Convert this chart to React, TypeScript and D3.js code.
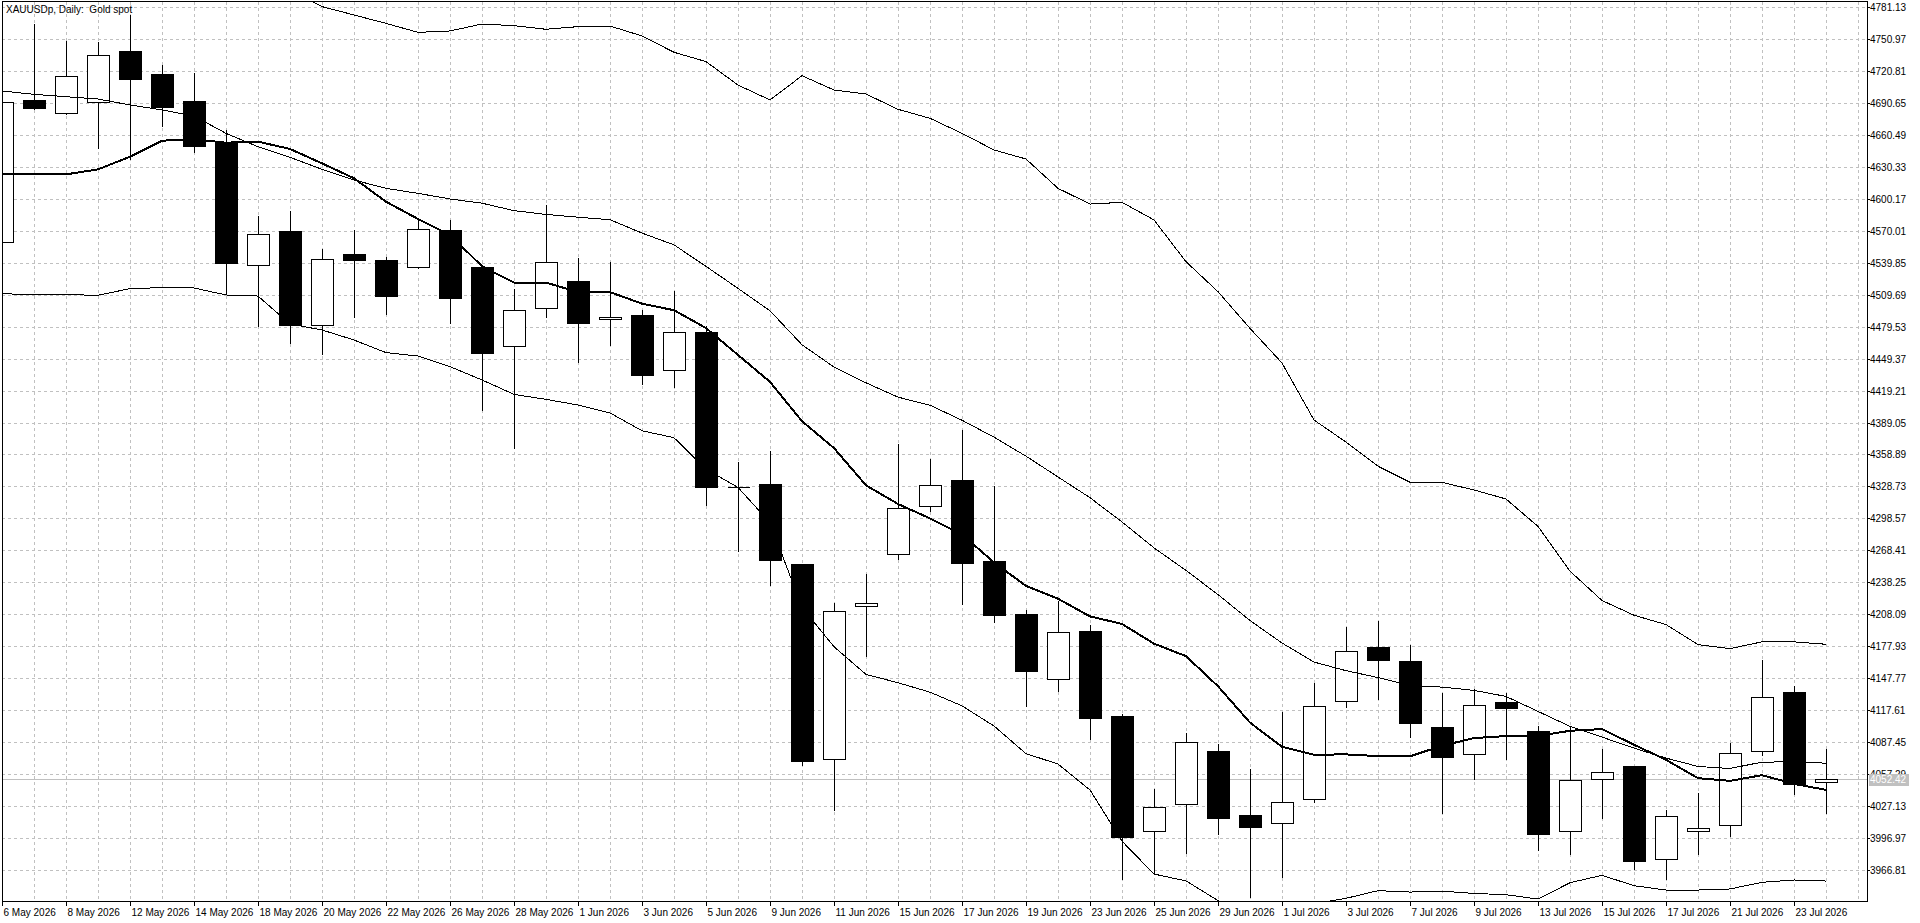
import * as d3 from "d3";

// daily bars, 6 May - 24 Jul 2026
const dates = [
  "6 May 2026", "7 May 2026", "8 May 2026", "11 May 2026", "12 May 2026", "13 May 2026", "14 May 2026", "15 May 2026",
  "18 May 2026", "19 May 2026", "20 May 2026", "21 May 2026", "22 May 2026", "25 May 2026", "26 May 2026", "27 May 2026",
  "28 May 2026", "29 May 2026", "1 Jun 2026", "2 Jun 2026", "3 Jun 2026", "4 Jun 2026", "5 Jun 2026", "8 Jun 2026",
  "9 Jun 2026", "10 Jun 2026", "11 Jun 2026", "12 Jun 2026", "15 Jun 2026", "16 Jun 2026", "17 Jun 2026", "18 Jun 2026",
  "19 Jun 2026", "22 Jun 2026", "23 Jun 2026", "24 Jun 2026", "25 Jun 2026", "26 Jun 2026", "29 Jun 2026", "30 Jun 2026",
  "1 Jul 2026", "2 Jul 2026", "3 Jul 2026", "6 Jul 2026", "7 Jul 2026", "8 Jul 2026", "9 Jul 2026", "10 Jul 2026",
  "13 Jul 2026", "14 Jul 2026", "15 Jul 2026", "16 Jul 2026", "17 Jul 2026", "20 Jul 2026", "21 Jul 2026", "22 Jul 2026",
  "23 Jul 2026", "24 Jul 2026",
];

const open = [
  4559.1, 4693.4, 4680.8, 4691.2, 4739.6, 4717.9, 4692.4, 4653.4, 4537.4, 4569.8,
  4480.9, 4548.5, 4542.4, 4535.6, 4570.7, 4536.0, 4461.4, 4496.9, 4522.7, 4486.4,
  4490.7, 4438.3, 4474.7, 4328.5, 4331.3, 4255.6, 4071.3, 4215.8, 4265.4, 4310.7,
  4334.4, 4258.4, 4208.1, 4147.1, 4192.4, 4112.5, 4003.5, 4029.3, 4079.5, 4019.1,
  4011.3, 4033.8, 4126.2, 4177.4, 4164.0, 4102.0, 4076.1, 4125.6, 4098.2, 4003.4,
  4052.5, 4065.1, 3976.9, 4003.4, 4009.0, 4079.0, 4134.7, 4049.8,
];
const high = [
  4700.0, 4766.3, 4750.0, 4749.0, 4774.5, 4727.3, 4719.8, 4666.0, 4584.9, 4589.3,
  4553.4, 4571.3, 4546.1, 4581.2, 4581.2, 4537.0, 4516.0, 4595.3, 4545.3, 4541.4,
  4495.7, 4514.5, 4480.9, 4353.2, 4363.0, 4256.0, 4219.7, 4246.6, 4369.6, 4355.2,
  4382.7, 4330.2, 4213.0, 4221.2, 4198.6, 4114.8, 4044.6, 4096.8, 4086.4, 4063.5,
  4116.7, 4144.5, 4196.7, 4202.9, 4180.4, 4134.4, 4138.5, 4135.1, 4103.9, 4102.3,
  4081.8, 4065.6, 4024.2, 4040.6, 4087.2, 4166.2, 4141.7, 4082.4,
];
const low = [
  4550.0, 4685.0, 4680.2, 4648.4, 4637.4, 4668.8, 4644.3, 4511.0, 4480.4, 4464.4,
  4453.4, 4488.9, 4491.2, 4534.7, 4482.6, 4400.9, 4364.9, 4488.7, 4446.1, 4461.8,
  4425.5, 4422.7, 4311.0, 4268.1, 4236.1, 4066.2, 4023.3, 4168.5, 4260.3, 4305.6,
  4217.9, 4201.2, 4121.6, 4135.3, 4090.6, 3958.1, 3963.0, 3982.6, 4000.8, 3941.8,
  3960.0, 4030.9, 4120.6, 4127.8, 4091.9, 4020.4, 4053.1, 4072.0, 3985.7, 3981.9,
  4015.7, 3967.8, 3958.0, 3981.9, 3998.9, 4075.5, 4038.6, 4020.4,
];
const close = [
  4691.2, 4685.5, 4715.7, 4735.5, 4713.5, 4687.1, 4650.2, 4539.9, 4566.6, 4481.1,
  4543.1, 4542.5, 4508.1, 4571.3, 4506.8, 4454.3, 4495.0, 4540.2, 4483.2, 4488.7,
  4433.6, 4474.3, 4327.8, 4328.5, 4259.5, 4070.1, 4211.5, 4218.5, 4308.3, 4330.2,
  4256.1, 4207.8, 4154.2, 4191.1, 4109.9, 3998.2, 4026.3, 4087.7, 4015.5, 4007.0,
  4030.9, 4121.6, 4173.2, 4164.7, 4105.3, 4073.9, 4122.5, 4119.3, 4000.5, 4051.6,
  4059.1, 3975.6, 4017.5, 4006.8, 4077.1, 4130.0, 4048.4, 4052.42,
];

// bollinger bands (thin) and the thick moving average
const bandUpper = [
  null, null, null, null, null, null, null, null, null, 4797.6,
  4781.5, 4773.6, 4765.7, 4757.2, 4758.5, 4765.1, 4763.5, 4760.1, 4762.6, 4763.2,
  4753.8, 4738.4, 4729.6, 4707.5, 4693.4, 4716.3, 4702.8, 4699.0, 4684.6, 4676.1,
  4661.9, 4646.2, 4637.7, 4610.0, 4595.2, 4596.8, 4580.2, 4540.8, 4512.5, 4477.9,
  4445.2, 4391.4, 4370.6, 4347.8, 4332.7, 4332.6, 4325.4, 4316.9, 4291.0, 4248.8,
  4221.1, 4207.2, 4198.4, 4179.5, 4175.7, 4182.1, 4182.1, 4179.8,
];
const bandMiddle = [
  4701.9, 4698.7, 4696.5, 4694.3, 4688.7, 4684.0, 4678.3, 4661.9, 4649.3, 4639.3,
  4628.0, 4617.9, 4610.0, 4605.3, 4600.0, 4596.0, 4589.0, 4585.4, 4582.8, 4580.4,
  4567.8, 4556.7, 4536.4, 4515.6, 4494.5, 4462.4, 4441.4, 4426.5, 4413.0, 4405.4,
  4391.2, 4375.2, 4357.3, 4337.7, 4318.1, 4295.2, 4270.8, 4249.5, 4226.7, 4202.2,
  4181.0, 4163.0, 4154.9, 4148.4, 4141.0, 4139.4, 4136.3, 4130.6, 4116.5, 4102.3,
  4092.2, 4081.8, 4072.4, 4064.5, 4062.6, 4068.6, 4068.9, 4067.6,
];
const bandLower = [
  4510.6, 4509.7, 4509.7, 4509.1, 4515.4, 4516.3, 4516.0, 4509.4, 4508.4, 4482.0,
  4476.4, 4466.9, 4455.0, 4451.8, 4441.8, 4429.2, 4415.6, 4410.9, 4405.6, 4398.1,
  4381.3, 4374.7, 4345.0, 4327.8, 4294.6, 4214.5, 4177.5, 4151.4, 4143.5, 4134.6,
  4121.7, 4102.7, 4076.6, 4066.8, 4042.3, 3994.0, 3963.0, 3956.5, 3938.0, 3926.0,
  3917.0, 3935.0, 3940.1, 3947.3, 3946.0, 3946.9, 3944.7, 3943.5, 3939.4, 3954.8,
  3961.8, 3952.0, 3947.9, 3947.9, 3948.9, 3955.2, 3957.4, 3956.4,
];
const maLine = [
  4623.2, 4623.2, 4623.2, 4627.9, 4639.9, 4655.0, 4656.3, 4653.1, 4654.1, 4647.2,
  4633.6, 4619.5, 4597.4, 4581.1, 4566.0, 4536.5, 4521.1, 4521.1, 4512.1, 4512.1,
  4501.2, 4495.0, 4478.2, 4452.8, 4427.4, 4390.3, 4364.9, 4329.8, 4312.2, 4298.6,
  4283.5, 4257.0, 4234.9, 4222.8, 4206.1, 4199.0, 4180.4, 4168.6, 4140.2, 4105.9,
  4083.1, 4075.6, 4075.9, 4074.3, 4074.1, 4084.0, 4091.3, 4093.2, 4093.2, 4098.2,
  4099.8, 4085.0, 4070.8, 4053.5, 4050.9, 4056.3, 4048.1, 4042.4,
];

const priceTicks = [
  "4781.13", "4750.97", "4720.81", "4690.65", "4660.49", "4630.33", "4600.17", "4570.01",
  "4539.85", "4509.69", "4479.53", "4449.37", "4419.21", "4389.05", "4358.89", "4328.73",
  "4298.57", "4268.41", "4238.25", "4208.09", "4177.93", "4147.77", "4117.61", "4087.45",
  "4057.29", "4027.13", "3996.97", "3966.81",
];
const lastPrice = 4052.42;
const title = "XAUUSDp, Daily:  Gold spot";

const W = 1920;
const H = 923;
const plotL = 2;
const plotT = 2;
const plotR = 1867;
const plotB = 902;
const font = "'Liberation Sans', Arial, sans-serif";

const App = () => {
  const idx = d3.range(dates.length);
  const x = d3.scalePoint<number>().domain(idx).range([2, 2 + 32 * (dates.length - 1)]);
  const step = x.step();
  const y = d3.scaleLinear().domain([4781.13, 3966.81]).range([7, 870]);
  const py = (v: number) => Math.round(y(v)) + 0.5;
  const cx = (i: number) => Math.round(x(i) as number) + 0.5;

  // grid spans past the last bar up to the right edge
  const gridX = d3.range(1, Math.floor((plotR - 2) / step) + 1).map(k => 2 + k * step);

  const line = d3.line<number | null>()
    .defined(d => d != null)
    .x((_, i) => x(i) as number)
    .y(d => y(d as number));

  const halfBody = 11;

  return (
    <svg width={W} height={H} style={{ position: "absolute", left: 0, top: 0, background: "#fff" }}
      fontFamily={font} fontSize={10}>
      <defs>
        <clipPath id="plot">
          <rect x={plotL} y={plotT} width={plotR - plotL} height={plotB - plotT} />
        </clipPath>
      </defs>
      <rect x={0} y={0} width={W} height={H} fill="#fff" />

      {/* grid */}
      <g stroke="#c0c0c0" strokeDasharray="3,3" shapeRendering="crispEdges">
        {gridX.map(gx => (
          <line key={"gx" + gx} x1={gx + 0.5} x2={gx + 0.5} y1={plotT} y2={plotB} />
        ))}
        {priceTicks.map(t => (
          <line key={"gy" + t} x1={plotL} x2={plotR} y1={py(+t)} y2={py(+t)} />
        ))}
      </g>

      <g clipPath="url(#plot)">
        {/* bid line */}
        <line x1={plotL} x2={plotR} y1={py(lastPrice)} y2={py(lastPrice)} stroke="#c0c0c0"
          shapeRendering="crispEdges" />

        {/* candles */}
        <g shapeRendering="crispEdges">
          {idx.map(i => {
            const up = close[i] >= open[i];
            const top = py(Math.max(open[i], close[i]));
            const bot = py(Math.min(open[i], close[i]));
            return (
              <g key={"c" + i}>
                <line x1={cx(i)} x2={cx(i)} y1={py(high[i])} y2={py(low[i])} stroke="#000" />
                {top === bot ? (
                  <line x1={cx(i) - halfBody} x2={cx(i) + halfBody} y1={top} y2={top} stroke="#000" />
                ) : (
                  <rect x={cx(i) - halfBody} y={top} width={halfBody * 2} height={bot - top}
                    fill={up ? "#fff" : "#000"} stroke="#000" />
                )}
              </g>
            );
          })}
        </g>

        {/* bands */}
        <g fill="none" stroke="#000" shapeRendering="crispEdges">
          <path d={line(bandUpper) || ""} strokeWidth={1} />
          <path d={line(bandMiddle) || ""} strokeWidth={1} />
          <path d={line(bandLower) || ""} strokeWidth={1} />
          <path d={line(maLine) || ""} strokeWidth={2} />
        </g>
      </g>

      <text x={6} y={13} fill="#000" xmlSpace="preserve">{title}</text>

      {/* frame */}
      <rect x={plotL + 0.5} y={plotT - 0.5} width={plotR - plotL} height={plotB - plotT}
        fill="none" stroke="#000" shapeRendering="crispEdges" />

      {/* price axis */}
      <g shapeRendering="crispEdges">
        {priceTicks.map(t => (
          <g key={"pt" + t}>
            <line x1={plotR} x2={plotR + 3} y1={py(+t)} y2={py(+t)} stroke="#000" />
            <text x={plotR + 3} y={py(+t) + 3.5} fill="#000">{t}</text>
          </g>
        ))}
        <rect x={plotR + 2} y={py(lastPrice) - 6} width={40} height={12} fill="#c0c0c0" />
        <text x={plotR + 3} y={py(lastPrice) + 3.5} fill="#fff">{lastPrice.toFixed(2)}</text>
      </g>

      {/* time axis */}
      <g shapeRendering="crispEdges">
        {idx.filter(i => i % 2 === 0).map(i => (
          <g key={"dt" + i}>
            <line x1={cx(i)} x2={cx(i)} y1={plotB} y2={plotB + 4} stroke="#000" />
            <text x={cx(i) + 1} y={916} fill="#000">{dates[i]}</text>
          </g>
        ))}
      </g>
    </svg>
  );
};

export default App;
